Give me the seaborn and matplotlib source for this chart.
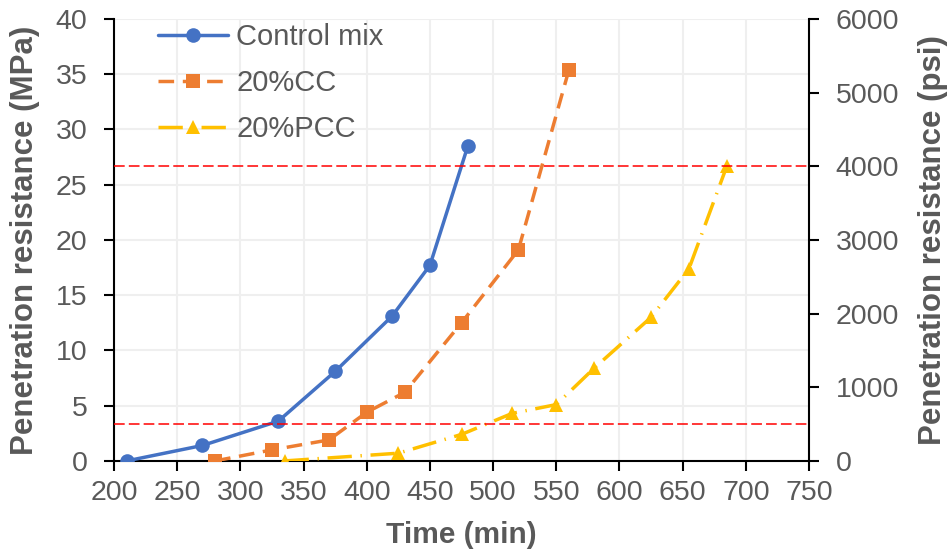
import matplotlib
matplotlib.use("Agg")
import matplotlib.pyplot as plt
import seaborn as sns
import pandas as pd

# Data
control_time = [210, 270, 330, 375, 420, 450, 480]
control_mpa = [0.0, 1.4, 3.6, 8.1, 13.1, 17.7, 28.5]
cc_time = [280, 325, 370, 400, 430, 475, 520, 560]
cc_mpa = [0.0, 1.0, 1.9, 4.4, 6.2, 12.5, 19.1, 35.4]
pcc_time = [335, 425, 475, 515, 550, 580, 625, 655, 685]
pcc_mpa = [0.0, 0.7, 2.4, 4.3, 5.1, 8.4, 13.0, 17.4, 26.7]
threshold_psi = [500, 4000]
series_names = ["Control mix", "20%CC", "20%PCC"]

sns.set_theme(style="white")
plt.rcParams['font.family'] = ['Liberation Sans', 'DejaVu Sans']

gray = "#595959"
fig = plt.figure(figsize=(9.5, 5.54), dpi=100)
ax = fig.add_axes([0.12, 0.168, 0.7316, 0.7977])

styles = [
    dict(color="#4472C4", marker="o", ls="-"),
    dict(color="#ED7D31", marker="s", ls=(0, (4.5, 2.5))),
    dict(color="#FFC000", marker="^", ls=(0, (7, 2.5, 0.4, 2.5))),
]
datasets = [(control_time, control_mpa), (cc_time, cc_mpa), (pcc_time, pcc_mpa)]
for name, (t, v), st in zip(series_names, datasets, styles):
    df = pd.DataFrame({"t": t, "v": v})
    sns.lineplot(data=df, x="t", y="v", ax=ax, color=st["color"], linewidth=2.5,
                 marker=st["marker"], markersize=10.5, markeredgewidth=0,
                 linestyle=st["ls"], label=name, zorder=3)

ax.set_xlim(200, 750)
ax.set_ylim(0, 40)
ax.set_xticks(range(200, 751, 50))
ax.set_yticks(range(0, 41, 5))
ax.grid(True, color="#efefef", linewidth=1.5)
ax.set_axisbelow(True)
for s in ["top", "right"]:
    ax.spines[s].set_visible(False)
for s in ["left", "bottom"]:
    ax.spines[s].set_color("black")
    ax.spines[s].set_linewidth(1.5)
ax.tick_params(axis="x", direction="out", length=7, width=1.5, color="black",
               labelsize=20.5, labelcolor=gray, pad=7, bottom=True)
ax.tick_params(axis="y", direction="out", length=7, width=1.5, color="black",
               labelsize=20.5, labelcolor=gray, pad=12, left=True)
ax.set_xlabel("Time (min)", fontsize=21.5, fontweight="bold", color=gray)
ax.set_ylabel("Penetration resistance (MPa)", fontsize=22.5, fontweight="bold", color=gray)
ax.xaxis.set_label_coords(0.5, -0.135)
ax.yaxis.set_label_coords(-0.106, 0.5)

ax2 = ax.twinx()
ax2.set_ylim(0, 6000)
ax2.set_yticks(range(0, 6001, 1000))
for s in ["top", "left", "bottom"]:
    ax2.spines[s].set_visible(False)
ax2.spines["right"].set_color("black")
ax2.spines["right"].set_linewidth(1.5)
ax2.tick_params(axis="y", direction="out", length=7, width=1.5, color="black",
                labelsize=20.5, labelcolor=gray, right=True, pad=12)
ax2.grid(False)
for p in threshold_psi:
    ax2.axhline(p, color="#FF0000", linewidth=1.1, linestyle=(0, (7, 2.7)), zorder=1)
ax2.set_ylabel("Penetration resistance (psi)", fontsize=22.5, fontweight="bold", color=gray)
ax2.yaxis.set_label_coords(1.157, 0.5)

leg = ax.legend(loc="upper left", bbox_to_anchor=(0.046, 1.018), frameon=False,
                fontsize=21, labelcolor=gray, handlelength=2.4, handletextpad=0.3,
                labelspacing=0.62, borderaxespad=0)

fig.savefig("out.png", dpi=100)
